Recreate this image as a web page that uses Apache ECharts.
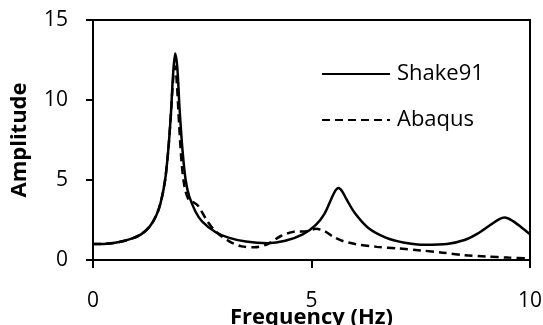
<!DOCTYPE html>
<html>
<head>
<meta charset="utf-8">
<script src="https://cdn.jsdelivr.net/npm/echarts@6/dist/echarts.min.js"></script>
<style>
  html, body { margin: 0; padding: 0; background: #fff; }
  #chart { width: 543px; height: 325px; }
</style>
</head>
<body>
<div id="chart"></div>
<script>
// 频率 (Hz) / 幅值 数据
const shake91 = [
  [0, 1.0], [0.3, 1.02], [0.6, 1.12], [0.9, 1.35], [1.1, 1.6], [1.3, 2.1],
  [1.45, 2.8], [1.55, 3.6], [1.65, 5.0], [1.72, 6.8], [1.78, 9.0], [1.83, 11.5],
  [1.88, 12.9], [1.93, 12.0], [1.98, 9.5], [2.05, 6.8], [2.12, 5.0], [2.2, 4.0],
  [2.35, 3.0], [2.5, 2.4], [2.8, 1.75], [3.1, 1.4], [3.5, 1.15], [4.0, 1.05],
  [4.4, 1.2], [4.8, 1.6], [5.1, 2.2], [5.3, 2.9], [5.45, 3.8], [5.55, 4.35],
  [5.62, 4.5], [5.7, 4.3], [5.8, 3.8], [6.0, 2.9], [6.3, 2.0], [6.7, 1.4],
  [7.1, 1.1], [7.6, 0.95], [8.1, 1.0], [8.5, 1.25], [8.8, 1.65], [9.1, 2.2],
  [9.3, 2.55], [9.42, 2.65], [9.6, 2.45], [9.8, 2.05], [10, 1.6]
];

const abaqus = [
  [0, 1.0], [0.3, 1.02], [0.6, 1.12], [0.9, 1.35], [1.1, 1.6], [1.3, 2.1],
  [1.45, 2.8], [1.55, 3.6], [1.65, 5.0], [1.72, 6.8], [1.78, 9.0], [1.84, 11.5],
  [1.88, 12.1], [1.92, 11.0], [1.97, 8.5], [2.03, 6.0], [2.1, 4.5], [2.2, 3.7],
  [2.3, 3.6], [2.4, 3.4], [2.6, 2.5], [2.8, 1.8], [3.1, 1.2], [3.4, 0.85],
  [3.7, 0.8], [4.0, 1.0], [4.3, 1.5], [4.6, 1.77], [4.9, 1.8], [5.1, 1.95],
  [5.3, 1.8], [5.5, 1.45], [5.7, 1.2], [6.0, 1.0], [6.5, 0.82], [7.0, 0.72],
  [7.5, 0.6], [8.0, 0.46], [8.5, 0.3], [9.0, 0.22], [9.5, 0.15], [10, 0.1]
];

const xTicks = [0, 5, 10];
const yTicks = [0, 5, 10, 15];

const chart = echarts.init(document.getElementById('chart'));
const font = 'Open Sans';

const option = {
  animation: false,
  textStyle: { fontFamily: font, color: '#000' },
  grid: {
    left: 93, right: 13, top: 20, bottom: 65,
    outerBoundsMode: 'none',
    containLabel: false
  },
  legend: {
    orient: 'vertical',
    left: 316,
    top: 58,
    itemWidth: 68,
    itemHeight: 14,
    itemGap: 24,
    itemStyle: { opacity: 0 },
    textStyle: { fontFamily: font, fontSize: 22, color: '#000', padding: [0, 0, 0, 2] },
    data: ['Shake91', 'Abaqus']
  },
  xAxis: {
    type: 'value',
    min: xTicks[0],
    max: xTicks[xTicks.length - 1],
    interval: 5,
    name: 'Frequency (Hz)',
    nameLocation: 'middle',
    nameGap: 47,
    nameMoveOverlap: false,
    nameTextStyle: { fontFamily: font, fontSize: 22, fontWeight: 'bold', color: '#000' },
    axisLine: { show: true, lineStyle: { color: '#000', width: 2 } },
    axisTick: { show: true, length: 8, lineStyle: { color: '#000', width: 2 } },
    axisLabel: { fontFamily: font, fontSize: 21, color: '#000', margin: 31 },
    splitLine: { show: false }
  },
  yAxis: {
    type: 'value',
    min: yTicks[0],
    max: yTicks[yTicks.length - 1],
    interval: 5,
    name: 'Amplitude',
    nameLocation: 'middle',
    nameGap: 62,
    nameMoveOverlap: false,
    nameTextStyle: { fontFamily: font, fontSize: 22, fontWeight: 'bold', color: '#000' },
    axisLine: { show: true, lineStyle: { color: '#000', width: 2 } },
    axisTick: { show: true, length: 7, lineStyle: { color: '#000', width: 2 } },
    axisLabel: { fontFamily: font, fontSize: 21, color: '#000', margin: 25 },
    splitLine: { show: false }
  },
  series: [
    {
      name: 'Shake91',
      type: 'line',
      data: shake91,
      smooth: 0.3,
      symbol: 'none',
      lineStyle: { color: '#000', width: 2.5 },
      itemStyle: { color: '#000' }
    },
    {
      name: 'Abaqus',
      type: 'line',
      data: abaqus,
      smooth: 0.3,
      symbol: 'none',
      lineStyle: { color: '#000', width: 2.5, type: [8, 5] },
      itemStyle: { color: '#000' }
    }
  ]
};

chart.setOption(option);

// 外框（上边、右边）：用坐标轴换算出的像素位置画
const tl = chart.convertToPixel({ gridIndex: 0 }, [xTicks[0], yTicks[yTicks.length - 1]]);
const br = chart.convertToPixel({ gridIndex: 0 }, [xTicks[xTicks.length - 1], yTicks[0]]);
chart.setOption({
  graphic: [{
    type: 'polyline',
    silent: true,
    z: 10,
    shape: { points: [[tl[0], tl[1]], [br[0], tl[1]], [br[0], br[1]]] },
    style: { stroke: '#000', lineWidth: 2, fill: null }
  }]
});
</script>
</body>
</html>
